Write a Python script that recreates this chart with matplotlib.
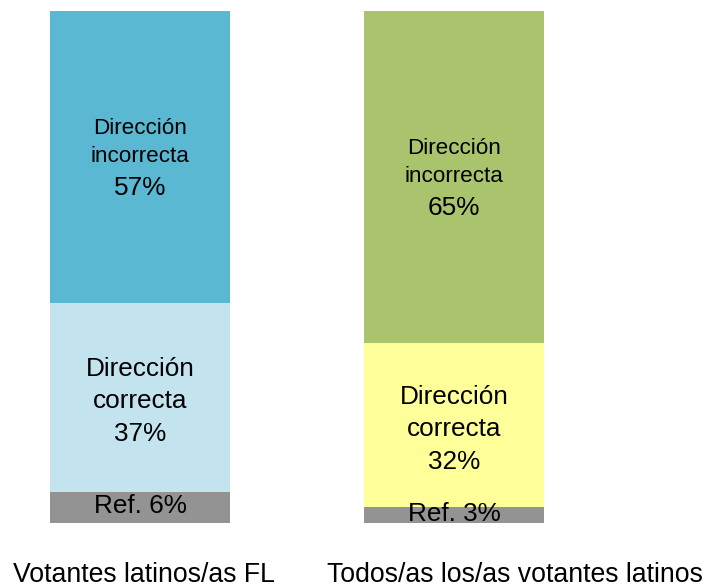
import numpy as np
import matplotlib
matplotlib.use("Agg")
import matplotlib.pyplot as plt

plt.rcParams['font.family'] = ['Liberation Sans', 'DejaVu Sans']

groups = ['Votantes latinos/as FL', 'Todos/as los/as votantes latinos']
ref = [6, 3]
correcta = [37, 32]
incorrecta = [57, 65]

col_ref = '#939393'
col_correcta = ['#C3E4EE', '#FFFF99']
col_incorrecta = ['#5BB8D2', '#AAC46E']

W, H = 707, 587
fig = plt.figure(figsize=(W / 100, H / 100), dpi=100)
# bars: bottom at y=522.5px, 100% at y=11px, centres at x=140px and 454px
ax = fig.add_axes([0, (H - 522.5) / H, 1, 511.5 / H])
ax.set_xlim(-140 / 314, (W - 140) / 314)
ax.set_ylim(0, 100)
ax.axis('off')

x = np.arange(len(groups))
ref = np.array(ref)
correcta = np.array(correcta)
incorrecta = np.array(incorrecta)
bw = 180 / 314

ax.bar(x, ref, bw, color=col_ref)
ax.bar(x, correcta, bw, bottom=ref, color=col_correcta)
ax.bar(x, incorrecta, bw, bottom=ref + correcta, color=col_incorrecta)

def put(xi, yv, txt, dy, size):
    ax.annotate(txt, (xi, yv), xytext=(0, dy), textcoords='offset pixels',
                ha='center', va='baseline', fontsize=size, color='black')

for i in range(len(groups)):
    top_mid = ref[i] + correcta[i] + incorrecta[i] / 2
    put(x[i], top_mid, 'Dirección', 23, 16.2)
    put(x[i], top_mid, 'incorrecta', -5, 16.2)
    put(x[i], top_mid, f'{incorrecta[i]}%', -38, 18.8)

    low_mid = ref[i] + correcta[i] / 2
    put(x[i], low_mid, 'Dirección', 21, 18.8)
    put(x[i], low_mid, 'correcta', -11, 18.8)
    put(x[i], low_mid, f'{correcta[i]}%', -44, 18.8)

    put(x[i], ref[i] / 2, f'Ref. {ref[i]}%', -6, 18.8)

label_x = [144, 515]
for lx, g in zip(label_x, groups):
    fig.text(lx / W, (H - 582) / H, g, ha='center', va='baseline', fontsize=19.2)

fig.savefig('out.png', dpi=100)
